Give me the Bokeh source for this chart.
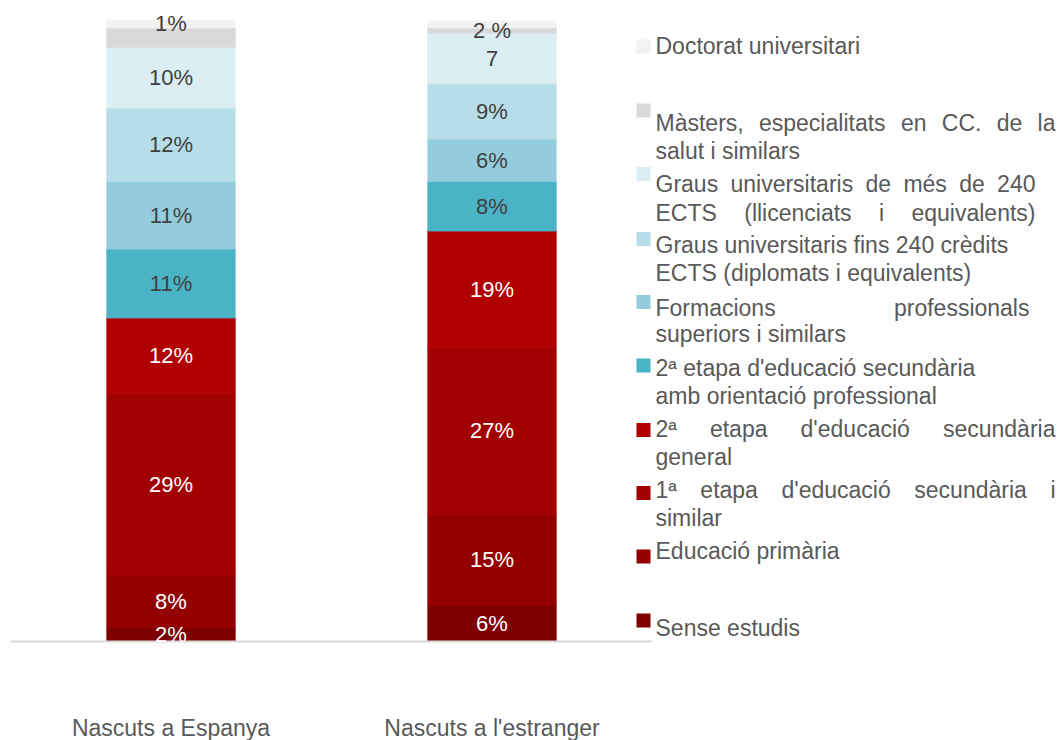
import glob
from bokeh.plotting import figure
from bokeh.models import ColumnDataSource, Range1d
from bokeh.core.properties import value
from bokeh.embed import file_html
from bokeh.resources import INLINE

# ---------------- data ----------------
categories = ["Nascuts a Espanya", "Nascuts a l'estranger"]

series_names = [
    "Sense estudis",
    "Educació primària",
    "1ª etapa d'educació secundària i similar",
    "2ª etapa d'educació secundària general",
    "2ª etapa d'educació secundària amb orientació professional",
    "Formacions professionals superiors i similars",
    "Graus universitaris fins 240 crèdits ECTS (diplomats i equivalents)",
    "Graus universitaris de més de 240 ECTS (llicenciats i equivalents)",
    "Màsters, especialitats en CC. de la salut i similars",
    "Doctorat universitari",
]

sense_estudis = [2.3, 5.8]
educacio_primaria = [8.4, 14.7]
primera_etapa = [29.2, 26.9]
segona_general = [12.2, 18.7]
segona_professional = [11.1, 8.0]
formacions_professionals = [10.9, 6.8]
graus_fins_240 = [11.8, 8.9]
graus_mes_240 = [9.8, 8.2]
masters = [3.1, 0.8]
doctorat = [1.3, 1.1]

# data labels as printed on the chart
labels_sense = ["2%", "6%"]
labels_primaria = ["8%", "15%"]
labels_primera = ["29%", "27%"]
labels_seg_gen = ["12%", "19%"]
labels_seg_prof = ["11%", "8%"]
labels_fp = ["11%", "6%"]
labels_graus_fins = ["12%", "9%"]
labels_graus_mes = ["10%", "7"]
labels_masters = ["", "2 %"]
labels_doctorat = ["1%", ""]

series_values = [sense_estudis, educacio_primaria, primera_etapa, segona_general,
                 segona_professional, formacions_professionals, graus_fins_240,
                 graus_mes_240, masters, doctorat]
series_labels = [labels_sense, labels_primaria, labels_primera, labels_seg_gen,
                 labels_seg_prof, labels_fp, labels_graus_fins, labels_graus_mes,
                 labels_masters, labels_doctorat]

# ---------------- style ----------------
colors = ["#7f0000", "#940000", "#a20000", "#b00000", "#4bb3c6",
          "#93cddd", "#b7dee8", "#daeef3", "#d9d9d9", "#f2f2f2"]
label_colors = ["#ffffff"] * 4 + ["#404040"] * 6
FONT = "Liberation Sans"

W, H = 1058, 740
PX_X = 321.0          # px per category step
PX_Y = 6.21           # px per percentage point
BAR1_SX = 170.5       # screen x of first category
BASE_SY = 641.0       # screen y of 0 %
X_START = -BAR1_SX / PX_X
X_END = X_START + W / PX_X
Y_END = BASE_SY / PX_Y
Y_START = (BASE_SY - H) / PX_Y


def sx(px):
    return X_START + px / PX_X


def sy(py):
    return (BASE_SY - py) / PX_Y


p = figure(width=W, height=H, x_range=Range1d(X_START, X_END), y_range=Range1d(Y_START, Y_END),
           output_backend="svg", toolbar_location=None, x_axis_location=None,
           y_axis_location=None, min_border=0)
p.grid.visible = False
p.outline_line_color = None
p.background_fill_color = "white"

keys = ["s%d" % i for i in range(len(series_values))]
data = {"x": list(range(len(categories)))}
for k, v in zip(keys, series_values):
    data[k] = v
src = ColumnDataSource(data)
p.vbar_stack(keys, x="x", width=0.4, fill_color=colors, line_color=colors, line_width=0.8,
             source=src)

# baseline
p.segment(x0=[-0.5], y0=[0], x1=[len(categories) - 0.5], y1=[0], line_color="#d9d9d9", line_width=2)

# data labels
lx, ly, lt, lc = [], [], [], []
for ci in range(len(categories)):
    bottom = 0.0
    for si, vals in enumerate(series_values):
        v = vals[ci]
        if series_labels[si][ci]:
            lx.append(ci)
            ly.append(bottom + v / 2)
            lt.append(series_labels[si][ci])
            lc.append(label_colors[si])
        bottom += v
p.text(x=lx, y=ly, text=lt, text_color=lc, text_align="center", text_baseline="middle",
       text_font=value(FONT), text_font_size="22px")

# category labels
p.text(x=list(range(len(categories))), y=[sy(727)] * len(categories), text=categories,
       text_color="#595959", text_align="center", text_baseline="middle",
       text_font=value(FONT), text_font_size="23px")

# ---------------- legend ----------------
LEG_FS = 23
font = None
try:
    from PIL import ImageFont
    paths = glob.glob("/usr/share/fonts/**/LiberationSans-Regular.ttf", recursive=True)
    if paths:
        font = ImageFont.truetype(paths[0], LEG_FS)
except Exception:
    font = None


def tw(s):
    if font is not None:
        return font.getlength(s)
    return len(s) * 0.5 * LEG_FS


legend_layout = [
    (0, 620, [("Sense estudis", 627, None)]),
    (1, 556, [("Educació primària", 550, None)]),
    (2, 492.5, [("1ª etapa d'educació secundària i", 489, 1055), ("similar", 517, None)]),
    (3, 429.5, [("2ª etapa d'educació secundària", 428, 1055), ("general", 456, None)]),
    (4, 365, [("2ª etapa d'educació secundària", 367, None), ("amb orientació professional", 395, None)]),
    (5, 301.5, [("Formacions professionals", 307, 1029), ("superiors i similars", 333, None)]),
    (6, 238.5, [("Graus universitaris fins 240 crèdits", 244, None), ("ECTS (diplomats i equivalents)", 272, None)]),
    (7, 173.5, [("Graus universitaris de més de 240", 183, 1035), ("ECTS (llicenciats i equivalents)", 212, 1035)]),
    (8, 110, [("Màsters, especialitats en CC. de la", 122, 1055), ("salut i similars", 150, None)]),
    (9, 46, [("Doctorat universitari", 45, None)]),
]
TEXT_LEFT = 655
SQ_X = 643

qx, qy, qc = [], [], []
wx, wy, wt = [], [], []
for si, sq_y, lines in legend_layout:
    qx.append(sx(SQ_X))
    qy.append(sy(sq_y))
    qc.append(colors[si])
    for text, ty, right in lines:
        if right is None:
            wx.append(sx(TEXT_LEFT)); wy.append(sy(ty)); wt.append(text)
        else:
            words = text.split(" ")
            widths = [tw(w) for w in words]
            gap = (right - TEXT_LEFT - sum(widths)) / max(len(words) - 1, 1)
            pos = TEXT_LEFT
            for w, wd in zip(words, widths):
                wx.append(sx(pos)); wy.append(sy(ty)); wt.append(w)
                pos += wd + gap

p.rect(x=qx, y=qy, width=14, height=14, width_units="screen", height_units="screen",
       fill_color=qc, line_color=None)
p.text(x=wx, y=wy, text=wt, text_color="#595959", text_align="left", text_baseline="middle",
       text_font=value(FONT), text_font_size="%dpx" % LEG_FS)

open("out.html", "w").write(file_html(p, INLINE))
